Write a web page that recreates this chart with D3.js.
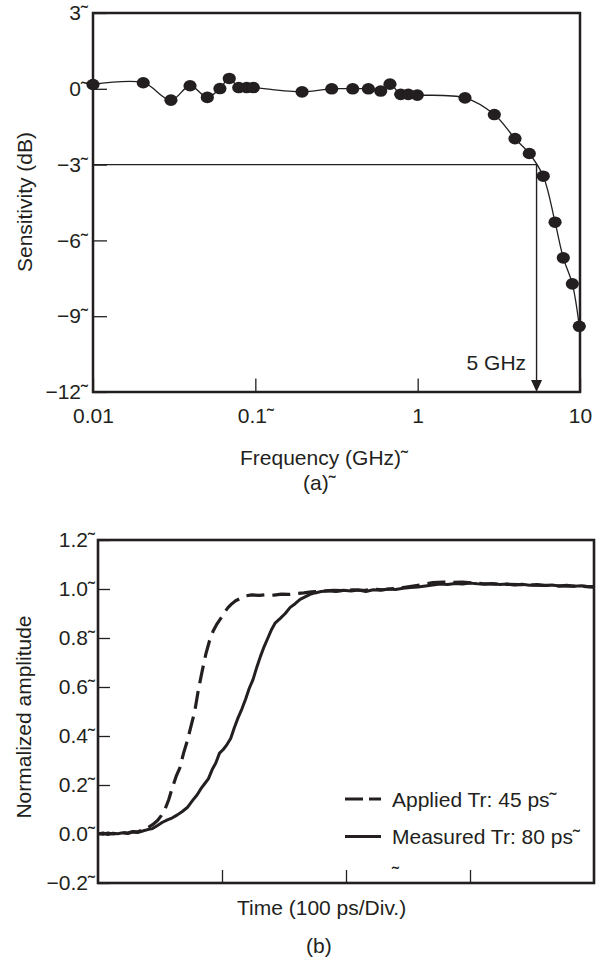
<!DOCTYPE html>
<html><head><meta charset="utf-8">
<script src="https://cdn.jsdelivr.net/npm/d3@7"></script>
<style>
body{margin:0;background:#fff}
svg text{font-family:"Liberation Sans",Arial,Helvetica,sans-serif;fill:#231f20}
</style>
</head><body><svg id="c" width="598" height="965"></svg>
<script>
// ---------- (a) frequency response ----------
const freqGHz = [0.01,0.0204,0.0302,0.0396,0.0506,0.0605,0.0691,0.079,0.0885,0.0972,0.194,0.2955,0.398,0.497,0.592,0.675,0.786,0.875,0.995,1.957,2.966,3.978,4.872,5.94,7.02,7.89,8.97,9.9];
const sensDB  = [0.17,0.24,-0.45,0.12,-0.34,0.01,0.41,0.05,0.05,0.05,-0.12,0.0,0.0,0.0,-0.09,0.185,-0.22,-0.22,-0.25,-0.36,-1.02,-1.97,-2.56,-3.46,-5.28,-6.69,-7.72,-9.4];
const yTicksA = [3,0,-3,-6,-9,-12];
const yTickLabelsA = ["3˜","0˜","−3˜","−6˜","−9˜","−12˜"];
const xTicksA = [0.01,0.1,1,10];
const xTickLabelsA = ["0.01","0.1˜","1","10"];
const cutoffFreq = 5.4, cutoffDB = -3;
const cutoffLabel = "5 GHz";

// ---------- (b) step response ----------
const timeMeasured = [0,4,8,12,16,20,24,28,32,36,40,44,48,52,56,60,64,68,72,76,80,83,86,89,92,95,98,101,104,107,110,113,116,119,122,125,128,131,134,137,140,143,147,151,155,159,163,167,171,175,180,186,192,198,204,210,216,222,228,234,240,246,252,258,264,270,276,282,288,294,300,306,312,318,324,330,336,342,348,354,360,366,372,378,384,390,396,400];
const ampMeasured  = [0,0.004,-0.002,0.003,0.001,0.005,0.002,0.008,0.006,0.012,0.018,0.022,0.035,0.048,0.058,0.066,0.078,0.092,0.108,0.135,0.16,0.185,0.205,0.225,0.262,0.29,0.33,0.345,0.365,0.39,0.435,0.475,0.51,0.55,0.595,0.63,0.68,0.725,0.765,0.8,0.835,0.862,0.88,0.9,0.925,0.94,0.958,0.968,0.978,0.984,0.99,0.993,0.99,0.995,0.992,0.996,0.99,0.997,0.995,1.0,0.998,1.003,1.006,1.008,1.012,1.016,1.02,1.018,1.022,1.02,1.024,1.021,1.019,1.022,1.018,1.02,1.016,1.019,1.015,1.018,1.014,1.016,1.012,1.015,1.011,1.013,1.009,1.01];
const timeApplied = [0,4,8,12,16,20,24,28,32,36,40,44,48,51,54,57,60,63,66,69,72,75,78,81,84,87,90,93,96,99,102,105,108,111,115,119,124,130,136,142,148,154,160,166,172,178,184,190,198,206,214,222,230,238,246,254,262,270,278,286,294,302,310,320,330,340,350,360,370,380,390,400];
const ampApplied  = [0.002,-0.001,0.004,0,0.003,0.006,0.004,0.01,0.009,0.016,0.025,0.038,0.055,0.075,0.1,0.14,0.19,0.235,0.27,0.33,0.38,0.44,0.5,0.59,0.665,0.735,0.79,0.83,0.858,0.88,0.905,0.925,0.94,0.952,0.962,0.972,0.976,0.974,0.977,0.975,0.979,0.978,0.982,0.984,0.988,0.99,0.992,0.994,0.993,0.997,0.994,0.999,0.997,1.002,1.006,1.012,1.018,1.026,1.028,1.027,1.028,1.025,1.022,1.02,1.019,1.018,1.016,1.015,1.013,1.012,1.011,1.008];
const yTicksB = [1.2,1.0,0.8,0.6,0.4,0.2,0.0,-0.2];
const yTickLabelsB = ["1.2˜","1.0˜","0.8˜","0.6˜","0.4˜","0.2˜","0.0˜","−0.2˜"];
const xTicksB = [100,200,300];
const legendLabels = ["Applied Tr: 45 ps˜","Measured Tr: 80 ps˜"];

const ink = "#231f20";
const FS = 21;
const svg = d3.select("#c");

// ===== chart (a) =====
const xA = d3.scaleLog().domain([0.01,10]).range([93,580]);
const yA = d3.scaleLinear().domain([-12,3]).range([392,13]);
const gA = svg.append("g");

const axLA = gA.append("g").attr("transform",`translate(${xA.range()[0]},0)`)
  .call(d3.axisLeft(yA).tickValues(yTicksA).tickSizeInner(-14).tickSizeOuter(0).tickPadding(5)
    .tickFormat((d,i)=>yTickLabelsA[i]));
const axBA = gA.append("g").attr("transform",`translate(0,${yA.range()[0]})`)
  .call(d3.axisBottom(xA).tickValues(xTicksA).tickSizeInner(-13.5).tickSizeOuter(0).tickPadding(16.5)
    .tickFormat((d,i)=>xTickLabelsA[i]));
[axLA,axBA].forEach(a=>{
  a.select(".domain").remove();
  a.selectAll("line").attr("stroke",ink).attr("stroke-width",1.3);
  a.selectAll("text").attr("font-size",FS).attr("fill",ink);
});

// cutoff lines
const cx = xA(cutoffFreq), cy = yA(cutoffDB), by = yA(-12);
gA.append("line").attr("x1",xA(0.01)).attr("x2",cx).attr("y1",cy).attr("y2",cy)
  .attr("stroke",ink).attr("stroke-width",1.4);
gA.append("line").attr("x1",cx).attr("x2",cx).attr("y1",cy).attr("y2",by-10)
  .attr("stroke",ink).attr("stroke-width",1.4);
gA.append("path").attr("d",`M${cx-5.5},${by-12}L${cx+5.5},${by-12}L${cx},${by}Z`).attr("fill",ink);
gA.append("text").attr("x",cx-10.5).attr("y",by-22).attr("text-anchor","end")
  .attr("font-size",FS).text(cutoffLabel);

// curve + markers
const ptsA = freqGHz.map((f,i)=>[f,sensDB[i]]);
gA.append("path").datum(ptsA)
  .attr("d",d3.line().x(d=>xA(d[0])).y(d=>yA(d[1])).curve(d3.curveCatmullRom.alpha(0.5)))
  .attr("fill","none").attr("stroke",ink).attr("stroke-width",1.3);
gA.selectAll("ellipse").data(ptsA).join("ellipse")
  .attr("cx",d=>xA(d[0])).attr("cy",d=>yA(d[1])).attr("rx",6.6).attr("ry",5.8).attr("fill",ink);

// frame
gA.append("rect").attr("x",93).attr("y",13).attr("width",487).attr("height",379)
  .attr("fill","none").attr("stroke",ink).attr("stroke-width",2.5);

// titles
gA.append("text").attr("transform","translate(32,202) rotate(-90)").attr("text-anchor","middle")
  .attr("font-size",FS).text("Sensitivity (dB)");
gA.append("text").attr("x",240).attr("y",465).attr("font-size",FS).text("Frequency (GHz)˜");
gA.append("text").attr("x",303).attr("y",490).attr("font-size",FS).text("(a)˜");

// ===== chart (b) =====
const xB = d3.scaleLinear().domain([0,400]).range([98,594]);
const yB = d3.scaleLinear().domain([-0.2,1.2]).range([883,540]);
const gB = svg.append("g");

const axLB = gB.append("g").attr("transform",`translate(${xB.range()[0]},0)`)
  .call(d3.axisLeft(yB).tickValues(yTicksB).tickSizeInner(-12).tickSizeOuter(0).tickPadding(3)
    .tickFormat((d,i)=>yTickLabelsB[i]));
const axBB = gB.append("g").attr("transform",`translate(0,${yB.range()[0]})`)
  .call(d3.axisBottom(xB).tickValues(xTicksB).tickSizeInner(-13).tickSizeOuter(0).tickFormat(""));
[axLB,axBB].forEach(a=>{
  a.select(".domain").remove();
  a.selectAll("line").attr("stroke",ink).attr("stroke-width",1.3);
  a.selectAll("text").attr("font-size",FS).attr("fill",ink);
});

const lineB = d3.line().x(d=>xB(d[0])).y(d=>yB(d[1]));
const ptsMeas = timeMeasured.map((t,i)=>[t,ampMeasured[i]]);
const ptsAppl = timeApplied.map((t,i)=>[t,ampApplied[i]]);
gB.append("path").datum(ptsMeas).attr("d",lineB).attr("fill","none")
  .attr("stroke",ink).attr("stroke-width",3).attr("stroke-linejoin","round");
gB.append("path").datum(ptsAppl).attr("d",lineB).attr("fill","none")
  .attr("stroke",ink).attr("stroke-width",3.2).attr("stroke-dasharray","18,8").attr("stroke-linejoin","round");

// legend
gB.append("line").attr("x1",345).attr("x2",381).attr("y1",799).attr("y2",799)
  .attr("stroke",ink).attr("stroke-width",3.2).attr("stroke-dasharray","18,6");
gB.append("line").attr("x1",345).attr("x2",381).attr("y1",836.5).attr("y2",836.5)
  .attr("stroke",ink).attr("stroke-width",3.2);
gB.append("text").attr("x",392).attr("y",807).attr("font-size",FS).text(legendLabels[0]);
gB.append("text").attr("x",392).attr("y",844).attr("font-size",FS).text(legendLabels[1]);
gB.append("text").attr("x",392).attr("y",881).attr("font-size",FS).text("˜");

// frame
gB.append("rect").attr("x",98).attr("y",540).attr("width",496).attr("height",343)
  .attr("fill","none").attr("stroke",ink).attr("stroke-width",2.6);

gB.append("text").attr("transform","translate(31,717) rotate(-90)").attr("text-anchor","middle")
  .attr("font-size",FS).text("Normalized amplitude");
gB.append("text").attr("x",237).attr("y",915).attr("font-size",FS).text("Time (100 ps/Div.)");
gB.append("text").attr("x",306).attr("y",953).attr("font-size",FS).text("(b)");
</script></body></html>
